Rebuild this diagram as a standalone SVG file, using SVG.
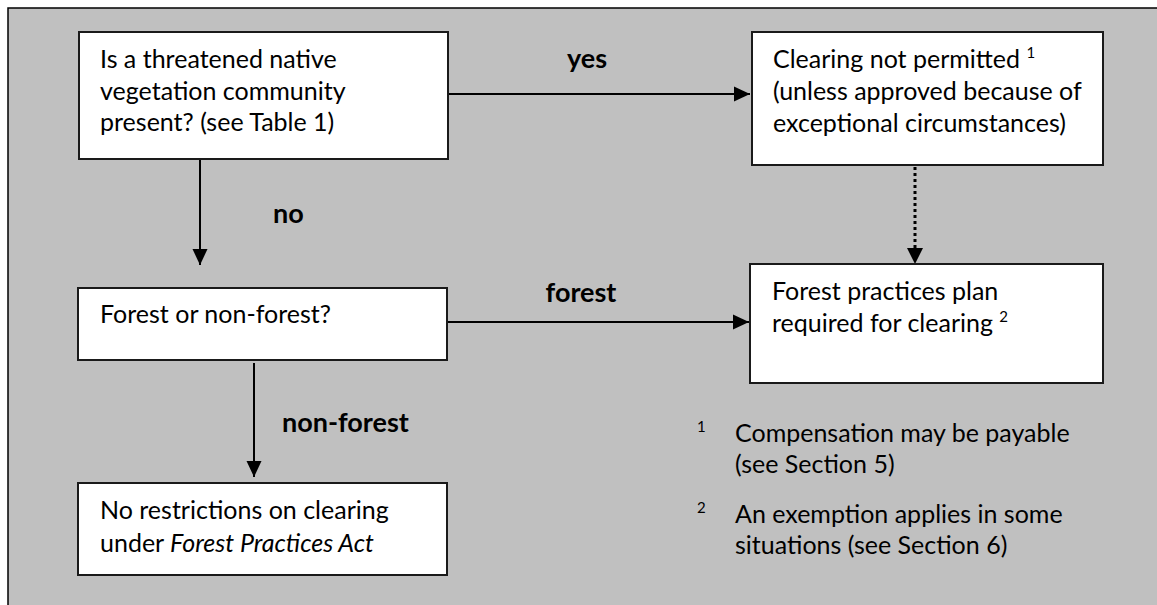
<svg xmlns="http://www.w3.org/2000/svg" width="1157" height="605" viewBox="0 0 1157 605">
  <style>
    .box { fill: #ffffff; stroke: #1a1a1a; stroke-width: 2; }
    .t { font-family: Lato, "Open Sans", "Liberation Sans", sans-serif; font-size: 25px; fill: #000; }
    .lbl { font-family: Lato, "Open Sans", "Liberation Sans", sans-serif; font-size: 27px; font-weight: bold; fill: #000; }
    .sup { font-size: 15px; }
    .conn { stroke: #000; stroke-width: 2; fill: none; }
    .dot { stroke: #000; stroke-width: 3; fill: none; stroke-dasharray: 3 3; }
  </style>
  <defs>
    <marker id="arrow" viewBox="0 0 16 16" refX="16" refY="8" markerWidth="16" markerHeight="16" markerUnits="userSpaceOnUse" orient="auto">
      <path d="M0,0.5 L16,8 L0,15.5 Z" fill="#000"/>
    </marker>
  </defs>
  <rect x="0" y="0" width="1157" height="605" fill="#ffffff"/>
  <rect x="8" y="8" width="1160" height="610" fill="#c0c0c0" stroke="#000" stroke-width="1.5"/>

  <g id="connectors">
    <line class="conn" x1="449" y1="94" x2="750" y2="94" marker-end="url(#arrow)"/>
    <line class="conn" x1="200" y1="141" x2="200" y2="265" marker-end="url(#arrow)"/>
    <line class="conn" x1="448" y1="322" x2="749" y2="322" marker-end="url(#arrow)"/>
    <line class="conn" x1="254" y1="363" x2="254" y2="477" marker-end="url(#arrow)"/>
    <line class="dot" x1="915" y1="167" x2="915" y2="252"/>
    <path d="M907,248 L915,264 L923,248 Z" fill="#000"/>
    <text class="lbl" x="587" y="68" text-anchor="middle">yes</text>
    <text class="lbl" x="273" y="223">no</text>
    <text class="lbl" x="581" y="302" text-anchor="middle">forest</text>
    <text class="lbl" x="282" y="432">non-forest</text>
  </g>

  <g id="node-threatened">
    <rect class="box" x="79" y="32" width="369" height="127"/>
    <text class="t" x="100" y="68">Is a threatened native</text>
    <text class="t" x="100" y="100">vegetation community</text>
    <text class="t" x="100" y="131">present? (see Table 1)</text>
  </g>

  <g id="node-not-permitted">
    <rect class="box" x="752" y="32" width="351" height="133"/>
    <text class="t" x="773" y="68">Clearing not permitted <tspan class="sup" dy="-10">1</tspan></text>
    <text class="t" x="773" y="100">(unless approved because of</text>
    <text class="t" x="773" y="132">exceptional circumstances)</text>
  </g>

  <g id="node-forest-question">
    <rect class="box" x="78" y="288" width="369" height="72"/>
    <text class="t" x="100" y="323">Forest or non-forest?</text>
  </g>

  <g id="node-fpp">
    <rect class="box" x="750" y="264" width="353" height="119"/>
    <text class="t" x="772" y="300">Forest practices plan</text>
    <text class="t" x="772" y="332">required for clearing <tspan class="sup" dy="-10">2</tspan></text>
  </g>

  <g id="node-no-restrictions">
    <rect class="box" x="78" y="483" width="369" height="92"/>
    <text class="t" x="100" y="519">No restrictions on clearing</text>
    <text class="t" x="100" y="552">under <tspan font-style="italic">Forest Practices Act</tspan></text>
  </g>

  <g id="footnotes">
    <text class="t sup" x="697" y="432">1</text>
    <text class="t" x="735" y="442">Compensation may be payable</text>
    <text class="t" x="735" y="473">(see Section 5)</text>
    <text class="t sup" x="697" y="513">2</text>
    <text class="t" x="735" y="523">An exemption applies in some</text>
    <text class="t" x="735" y="554">situations (see Section 6)</text>
  </g>
</svg>
